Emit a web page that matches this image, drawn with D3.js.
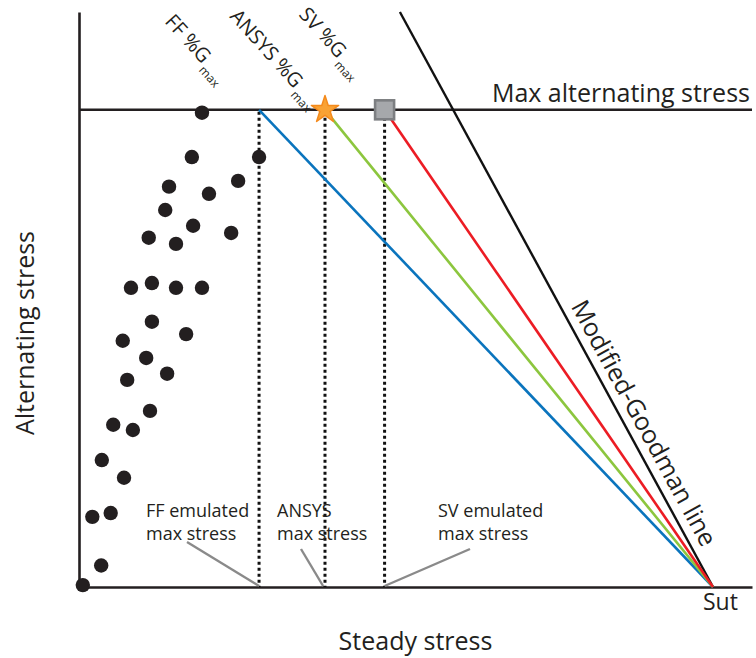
<!DOCTYPE html>
<html>
<head>
<meta charset="utf-8">
<script src="https://cdn.jsdelivr.net/npm/d3@7/dist/d3.min.js"></script>
<style>
  html, body { margin: 0; padding: 0; background: #fff; }
  svg { display: block; }
  text { font-family: "Open Sans", "Noto Sans", sans-serif; fill: #231f20; }
</style>
</head>
<body>
<svg id="chart" width="756" height="658"></svg>
<script>
// Test points: steady (mean) stress vs alternating stress, arbitrary units (Sut = 100)
const steadyStress = [19.4, 17.8, 28.4, 14.2, 25.1, 20.5, 13.6, 18.0, 11.0, 15.3,
                      24.0, 8.2, 11.5, 15.3, 19.4, 11.5, 6.9, 16.9, 10.6, 13.9,
                      7.6, 11.2, 5.4, 8.5, 3.6, 7.1, 2.1, 5.0, 3.5, 0.6];
const alternatingStress = [99.4, 90.1, 90.1, 83.9, 85.1, 82.4, 79.0, 75.7, 73.2, 71.9,
                           74.2, 62.7, 63.7, 62.7, 62.7, 55.6, 51.6, 53.0, 48.0, 44.7,
                           43.4, 36.9, 34.0, 32.9, 26.6, 22.9, 14.7, 15.5, 4.5, 0.4];

// Material limits
const ultimateStrength = 100;      // Sut
const enduranceIntercept = 244;    // Goodman line intercept on the alternating axis
const maxAlternating = 100;

// Emulated / computed maximum steady stress for each method
const methods = ["FF", "ANSYS", "SV"];
const methodMaxStress = [28.4, 38.8, 48.2];
const methodColors = ["#0a74bd", "#8cc63e", "#ec1c24"];

const xMaxDomain = 106.15, yMaxDomain = 120.5;

const svg = d3.select("#chart");
const x = d3.scaleLinear().domain([0, xMaxDomain]).range([79, 752]);
const y = d3.scaleLinear().domain([0, yMaxDomain]).range([587, 12]);

const ink = "#231f20";

// Axes without ticks
const gx = svg.append("g").attr("transform", `translate(0,${y(0)})`)
  .call(d3.axisBottom(x).tickValues([]).tickSizeOuter(0));
const gy = svg.append("g").attr("transform", `translate(${x(0)},0)`)
  .call(d3.axisLeft(y).tickValues([]).tickSizeOuter(0));
[gx, gy].forEach(g => g.select(".domain").attr("stroke", ink).attr("stroke-width", 2.6));

// Max alternating stress line
svg.append("line")
  .attr("x1", x(0)).attr("x2", x(xMaxDomain))
  .attr("y1", y(maxAlternating)).attr("y2", y(maxAlternating))
  .attr("stroke", ink).attr("stroke-width", 2.4);

svg.append("text")
  .attr("x", 750).attr("y", y(maxAlternating) - 8)
  .attr("text-anchor", "end").attr("font-size", 25)
  .text("Max alternating stress");

// Modified-Goodman line, clipped at the top of the plot
const gTopX = ultimateStrength * (1 - yMaxDomain / enduranceIntercept);
const g0 = [x(gTopX), y(yMaxDomain)], g1 = [x(ultimateStrength), y(0)];
svg.append("line")
  .attr("x1", g0[0]).attr("y1", g0[1]).attr("x2", g1[0]).attr("y2", g1[1])
  .attr("stroke", "#111").attr("stroke-width", 2.4);

const gLen = Math.hypot(g1[0] - g0[0], g1[1] - g0[1]);
const ux = (g1[0] - g0[0]) / gLen, uy = (g1[1] - g0[1]) / gLen;
const gAngle = Math.atan2(uy, ux) * 180 / Math.PI;
const tStart = 340, off = 9;
const lx = g0[0] + ux * tStart + uy * off, ly = g0[1] + uy * tStart - ux * off;
svg.append("text")
  .attr("transform", `translate(${lx},${ly}) rotate(${gAngle})`)
  .attr("font-size", 25)
  .text("Modified-Goodman line");

// Vertical dotted lines at each method's max steady stress
svg.append("g").selectAll("line").data(methodMaxStress).join("line")
  .attr("x1", d => x(d)).attr("x2", d => x(d))
  .attr("y1", y(maxAlternating) + 2).attr("y2", y(0))
  .attr("stroke", "#111").attr("stroke-width", 3)
  .attr("stroke-dasharray", "3,3");

// Load lines from each method's max stress to Sut
svg.append("g").selectAll("line").data(methodMaxStress).join("line")
  .attr("x1", d => x(d)).attr("y1", y(maxAlternating))
  .attr("x2", x(ultimateStrength)).attr("y2", y(0))
  .attr("stroke", (d, i) => methodColors[i]).attr("stroke-width", 2.6);

// Test points
svg.append("g").selectAll("circle").data(steadyStress).join("circle")
  .attr("cx", d => x(d))
  .attr("cy", (d, i) => y(alternatingStress[i]))
  .attr("r", 7.2)
  .attr("fill", ink);

// ANSYS marker (star) and SV marker (square)
const star = d3.symbol().type(d3.symbolStar).size(230);
svg.append("path")
  .attr("d", star())
  .attr("transform", `translate(${x(methodMaxStress[1])},${y(maxAlternating)})`)
  .attr("fill", "#f9a234").attr("stroke", "#f48a1c").attr("stroke-width", 1.5)
  .attr("stroke-linejoin", "round");

svg.append("rect")
  .attr("x", x(methodMaxStress[2]) - 9.5).attr("y", y(maxAlternating) - 9.5)
  .attr("width", 19).attr("height", 19)
  .attr("fill", "#a6a8ab").attr("stroke", "#7d7f82").attr("stroke-width", 2.6);

// Rotated %Gmax labels along the top
const topLabels = [
  { main: "FF %G", px: 164, py: 22 },
  { main: "ANSYS %G", px: 229, py: 17 },
  { main: "SV %G", px: 298, py: 15 }
];
topLabels.forEach(l => {
  const t = svg.append("text")
    .attr("transform", `translate(${l.px},${l.py}) rotate(48)`)
    .attr("font-size", 20);
  t.append("tspan").text(l.main);
  t.append("tspan").attr("font-size", 12).attr("dy", 7).attr("dx", 2).text("max");
});

// Bottom annotation labels with leader lines
const noteLabels = [
  { lines: ["FF emulated", "max stress"], px: 146, from: [187, 542], at: methodMaxStress[0] },
  { lines: ["ANSYS", "max stress"], px: 277, from: [301, 549], at: methodMaxStress[1] - 0.3 },
  { lines: ["SV emulated", "max stress"], px: 438, from: [470, 549], at: methodMaxStress[2] }
];
noteLabels.forEach(n => {
  n.lines.forEach((s, i) => {
    svg.append("text")
      .attr("x", n.px).attr("y", 517 + i * 23)
      .attr("font-size", 18)
      .text(s);
  });
  svg.append("line")
    .attr("x1", n.from[0]).attr("y1", n.from[1])
    .attr("x2", x(n.at)).attr("y2", y(0) - 1)
    .attr("stroke", "#8a8a8a").attr("stroke-width", 2.4);
});

// Sut label
svg.append("text")
  .attr("x", x(ultimateStrength) - 10).attr("y", 610)
  .attr("font-size", 23)
  .text("Sut");

// Axis titles
svg.append("text")
  .attr("x", (x(0) + x(xMaxDomain)) / 2).attr("y", 650)
  .attr("text-anchor", "middle").attr("font-size", 25)
  .text("Steady stress");

svg.append("text")
  .attr("transform", `translate(34,333) rotate(-90)`)
  .attr("text-anchor", "middle").attr("font-size", 25)
  .text("Alternating stress");
</script>
</body>
</html>
